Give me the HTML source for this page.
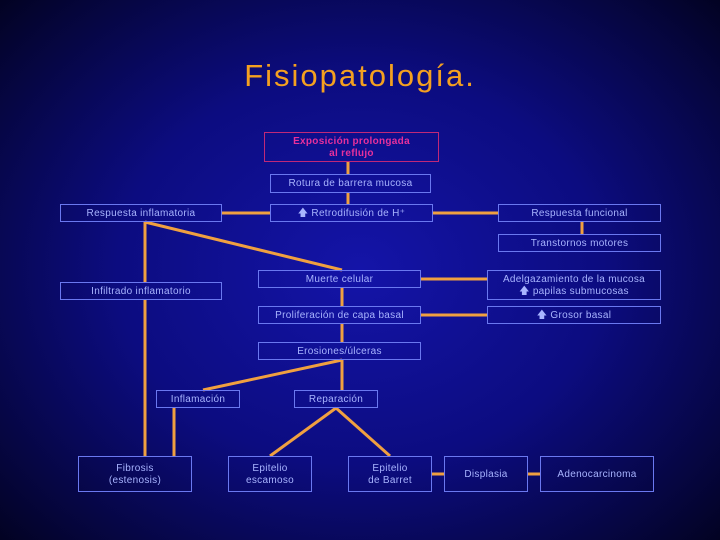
<!DOCTYPE html>
<html><head><meta charset="utf-8"><style>
body{margin:0;width:720px;height:540px;overflow:hidden;background:radial-gradient(ellipse 75% 80% at 50% 50%,#1414a8 0%,#0c0c80 45%,#05053a 80%,#000010 100%);font-family:"Liberation Sans",sans-serif;position:relative}
.b{position:absolute;box-sizing:border-box;border:1px solid #6a78f0;color:#a8b4ff;font-size:10px;display:flex;align-items:center;justify-content:center;text-align:center;line-height:12px;letter-spacing:0.3px;padding-top:1px}
h1{position:absolute;left:0;width:720px;top:58px;margin:0;text-align:center;font-weight:normal;font-size:31px;color:#f4a020;letter-spacing:2px}
svg{position:absolute;left:0;top:0}
</style></head><body>
<h1>Fisiopatología.</h1>
<svg width="720" height="540"><g stroke="#f0a040" stroke-width="3" fill="none">
<line x1="348" y1="162" x2="348" y2="174"/><line x1="348" y1="193" x2="348" y2="204"/>
<line x1="222" y1="213" x2="270" y2="213"/><line x1="433" y1="213" x2="498" y2="213"/>
<line x1="582" y1="222" x2="582" y2="234"/>
<line x1="145" y1="222" x2="342" y2="270"/>
<line x1="145" y1="222" x2="145" y2="282"/><line x1="145" y1="300" x2="145" y2="456"/>
<line x1="421" y1="279" x2="487" y2="279"/><line x1="421" y1="315" x2="487" y2="315"/>
<line x1="342" y1="288" x2="342" y2="306"/><line x1="342" y1="324" x2="342" y2="342"/>
<line x1="342" y1="360" x2="203" y2="390"/><line x1="342" y1="360" x2="342" y2="390"/>
<line x1="174" y1="408" x2="174" y2="456"/>
<line x1="336" y1="408" x2="270" y2="456"/><line x1="336" y1="408" x2="390" y2="456"/>
<line x1="432" y1="474" x2="444" y2="474"/><line x1="528" y1="474" x2="540" y2="474"/>
</g></svg>
<div class="b" style="left:264px;top:132px;width:175px;height:30px;border-color:#c02878;color:#e8309c;font-weight:bold">Exposición prolongada<br>al reflujo</div>
<div class="b" style="left:270px;top:174px;width:161px;height:19px">Rotura de barrera mucosa</div>
<div class="b" style="left:60px;top:204px;width:162px;height:18px">Respuesta inflamatoria</div>
<div class="b" style="left:270px;top:204px;width:163px;height:18px">🡅 Retrodifusión de H⁺</div>
<div class="b" style="left:498px;top:204px;width:163px;height:18px">Respuesta funcional</div>
<div class="b" style="left:498px;top:234px;width:163px;height:18px">Transtornos motores</div>
<div class="b" style="left:258px;top:270px;width:163px;height:18px">Muerte celular</div>
<div class="b" style="left:60px;top:282px;width:162px;height:18px">Infiltrado inflamatorio</div>
<div class="b" style="left:487px;top:270px;width:174px;height:30px">Adelgazamiento de la mucosa<br>🡅 papilas submucosas</div>
<div class="b" style="left:258px;top:306px;width:163px;height:18px">Proliferación de capa basal</div>
<div class="b" style="left:487px;top:306px;width:174px;height:18px">🡅 Grosor basal</div>
<div class="b" style="left:258px;top:342px;width:163px;height:18px">Erosiones/úlceras</div>
<div class="b" style="left:156px;top:390px;width:84px;height:18px">Inflamación</div>
<div class="b" style="left:294px;top:390px;width:84px;height:18px">Reparación</div>
<div class="b" style="left:78px;top:456px;width:114px;height:36px">Fibrosis<br>(estenosis)</div>
<div class="b" style="left:228px;top:456px;width:84px;height:36px">Epitelio<br>escamoso</div>
<div class="b" style="left:348px;top:456px;width:84px;height:36px">Epitelio<br>de Barret</div>
<div class="b" style="left:444px;top:456px;width:84px;height:36px">Displasia</div>
<div class="b" style="left:540px;top:456px;width:114px;height:36px">Adenocarcinoma</div>
</body></html>
